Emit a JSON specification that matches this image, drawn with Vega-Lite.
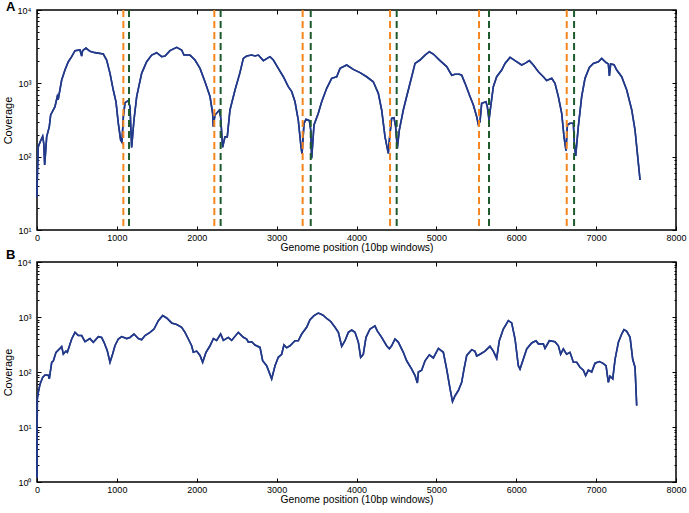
{
  "$schema": "https://vega.github.io/schema/vega-lite/v6.json",
  "padding": {"left": 1, "top": 0, "right": 3, "bottom": 3},
  "background": "white",
  "config": {
    "font": "Liberation Sans",
    "view": {"stroke": "black", "strokeWidth": 1.5},
    "axis": {
      "grid": false, "domain": false, "tickColor": "black", "labelColor": "black",
      "labelFontSize": 9, "titleFontSize": 11, "titleFontWeight": "normal", "titleColor": "black",
      "tickWidth": 1
    },
    "axisX": {"titleFontSize": 10.3},
    "title": {"fontSize": 13, "fontWeight": "bold", "anchor": "start", "frame": "group", "dx": -31, "offset": -8}
  },
  "datasets": {
    "a": [
      {"x": 0, "y": 28}, {"x": 5, "y": 60}, {"x": 16, "y": 137}, {"x": 40, "y": 160}, {"x": 71, "y": 190}, {"x": 85, "y": 150}, {"x": 96, "y": 77},
      {"x": 121, "y": 186}, {"x": 154, "y": 257}, {"x": 171, "y": 370}, {"x": 225, "y": 480}, {"x": 254, "y": 660},
      {"x": 265, "y": 600}, {"x": 309, "y": 1110}, {"x": 350, "y": 1520}, {"x": 392, "y": 1970}, {"x": 434, "y": 2310},
      {"x": 476, "y": 2790}, {"x": 538, "y": 2850}, {"x": 559, "y": 2360}, {"x": 571, "y": 2790}, {"x": 613, "y": 3030},
      {"x": 663, "y": 2730}, {"x": 726, "y": 2620}, {"x": 830, "y": 2510}, {"x": 872, "y": 2080}, {"x": 914, "y": 1370},
      {"x": 955, "y": 810}, {"x": 989, "y": 560}, {"x": 1018, "y": 285}, {"x": 1047, "y": 169}, {"x": 1064, "y": 157},
      {"x": 1081, "y": 350}, {"x": 1102, "y": 545}, {"x": 1143, "y": 580}, {"x": 1164, "y": 480}, {"x": 1185, "y": 134},
      {"x": 1214, "y": 316}, {"x": 1248, "y": 660}, {"x": 1310, "y": 1370}, {"x": 1373, "y": 1970}, {"x": 1436, "y": 2430},
      {"x": 1498, "y": 2620}, {"x": 1561, "y": 2310}, {"x": 1603, "y": 2360}, {"x": 1665, "y": 2790}, {"x": 1749, "y": 3100},
      {"x": 1811, "y": 2850}, {"x": 1840, "y": 2430}, {"x": 1915, "y": 2430}, {"x": 1978, "y": 2080}, {"x": 2041, "y": 1600},
      {"x": 2103, "y": 1050}, {"x": 2166, "y": 660}, {"x": 2199, "y": 390}, {"x": 2207, "y": 257}, {"x": 2228, "y": 370},
      {"x": 2257, "y": 400}, {"x": 2282, "y": 430}, {"x": 2299, "y": 350}, {"x": 2324, "y": 134}, {"x": 2353, "y": 186},
      {"x": 2382, "y": 186}, {"x": 2416, "y": 433}, {"x": 2479, "y": 810}, {"x": 2541, "y": 1400}, {"x": 2583, "y": 2190},
      {"x": 2625, "y": 2360}, {"x": 2688, "y": 2430}, {"x": 2729, "y": 2360}, {"x": 2771, "y": 2430}, {"x": 2834, "y": 2040},
      {"x": 2917, "y": 2310}, {"x": 2959, "y": 2080}, {"x": 3021, "y": 1600}, {"x": 3084, "y": 1230}, {"x": 3146, "y": 900},
      {"x": 3189, "y": 770}, {"x": 3230, "y": 560}, {"x": 3271, "y": 316}, {"x": 3305, "y": 137}, {"x": 3318, "y": 109},
      {"x": 3343, "y": 285}, {"x": 3368, "y": 323}, {"x": 3410, "y": 310}, {"x": 3427, "y": 231}, {"x": 3439, "y": 95},
      {"x": 3468, "y": 270}, {"x": 3522, "y": 390}, {"x": 3564, "y": 560}, {"x": 3627, "y": 855}, {"x": 3689, "y": 1170},
      {"x": 3752, "y": 1230}, {"x": 3794, "y": 1600}, {"x": 3877, "y": 1780}, {"x": 3960, "y": 1550}, {"x": 4044, "y": 1400},
      {"x": 4127, "y": 1230}, {"x": 4210, "y": 1050}, {"x": 4273, "y": 730}, {"x": 4315, "y": 433}, {"x": 4357, "y": 186},
      {"x": 4398, "y": 111}, {"x": 4415, "y": 186}, {"x": 4440, "y": 333}, {"x": 4469, "y": 340}, {"x": 4490, "y": 257},
      {"x": 4511, "y": 130}, {"x": 4536, "y": 231}, {"x": 4586, "y": 433}, {"x": 4628, "y": 660}, {"x": 4691, "y": 1230},
      {"x": 4733, "y": 1870}, {"x": 4795, "y": 2080}, {"x": 4858, "y": 2430}, {"x": 4912, "y": 2700}, {"x": 4962, "y": 2510},
      {"x": 5046, "y": 2040}, {"x": 5129, "y": 1690}, {"x": 5192, "y": 1290}, {"x": 5234, "y": 1330}, {"x": 5288, "y": 1330},
      {"x": 5317, "y": 1290}, {"x": 5359, "y": 1000}, {"x": 5421, "y": 660}, {"x": 5463, "y": 507}, {"x": 5505, "y": 350},
      {"x": 5525, "y": 276}, {"x": 5546, "y": 300}, {"x": 5567, "y": 534}, {"x": 5621, "y": 560}, {"x": 5638, "y": 480},
      {"x": 5659, "y": 316}, {"x": 5680, "y": 480}, {"x": 5713, "y": 900}, {"x": 5755, "y": 1230}, {"x": 5818, "y": 1520},
      {"x": 5859, "y": 1870}, {"x": 5922, "y": 2260}, {"x": 5985, "y": 2040}, {"x": 6068, "y": 1780}, {"x": 6109, "y": 1870},
      {"x": 6164, "y": 2040}, {"x": 6214, "y": 1780}, {"x": 6277, "y": 1440}, {"x": 6339, "y": 1230}, {"x": 6381, "y": 1090},
      {"x": 6444, "y": 1170}, {"x": 6485, "y": 1000}, {"x": 6527, "y": 660}, {"x": 6569, "y": 390}, {"x": 6598, "y": 186},
      {"x": 6623, "y": 121}, {"x": 6640, "y": 270}, {"x": 6673, "y": 285}, {"x": 6715, "y": 285}, {"x": 6727, "y": 152},
      {"x": 6744, "y": 102}, {"x": 6777, "y": 257}, {"x": 6819, "y": 660}, {"x": 6861, "y": 1170}, {"x": 6915, "y": 1650},
      {"x": 6965, "y": 1870}, {"x": 7028, "y": 1970}, {"x": 7070, "y": 2190}, {"x": 7124, "y": 1920}, {"x": 7153, "y": 1840},
      {"x": 7166, "y": 1260}, {"x": 7182, "y": 1840}, {"x": 7224, "y": 1800}, {"x": 7258, "y": 1520}, {"x": 7320, "y": 1230},
      {"x": 7383, "y": 810}, {"x": 7446, "y": 433}, {"x": 7487, "y": 231}, {"x": 7529, "y": 81}, {"x": 7550, "y": 48}
    ],
    "b": [
      {"x": 0, "y": 1.2}, {"x": 2, "y": 8}, {"x": 4, "y": 32}, {"x": 17, "y": 43}, {"x": 38, "y": 60}, {"x": 71, "y": 80},
      {"x": 100, "y": 88}, {"x": 142, "y": 87}, {"x": 154, "y": 75}, {"x": 184, "y": 150}, {"x": 204, "y": 158},
      {"x": 238, "y": 228}, {"x": 288, "y": 269}, {"x": 309, "y": 290}, {"x": 330, "y": 212}, {"x": 363, "y": 240},
      {"x": 380, "y": 228}, {"x": 434, "y": 398}, {"x": 476, "y": 526}, {"x": 517, "y": 460}, {"x": 559, "y": 460},
      {"x": 601, "y": 355}, {"x": 663, "y": 405}, {"x": 705, "y": 348}, {"x": 768, "y": 440}, {"x": 809, "y": 425},
      {"x": 838, "y": 350}, {"x": 880, "y": 244}, {"x": 914, "y": 150}, {"x": 947, "y": 212}, {"x": 976, "y": 300},
      {"x": 1018, "y": 398}, {"x": 1060, "y": 440}, {"x": 1122, "y": 405}, {"x": 1164, "y": 425}, {"x": 1214, "y": 490},
      {"x": 1269, "y": 405}, {"x": 1310, "y": 385}, {"x": 1352, "y": 460}, {"x": 1415, "y": 526}, {"x": 1465, "y": 605},
      {"x": 1519, "y": 860}, {"x": 1573, "y": 1060}, {"x": 1623, "y": 960}, {"x": 1686, "y": 780}, {"x": 1749, "y": 730},
      {"x": 1811, "y": 650}, {"x": 1853, "y": 526}, {"x": 1895, "y": 398}, {"x": 1936, "y": 300}, {"x": 1957, "y": 228},
      {"x": 1999, "y": 240}, {"x": 2041, "y": 200}, {"x": 2074, "y": 150}, {"x": 2116, "y": 228}, {"x": 2166, "y": 300},
      {"x": 2208, "y": 405}, {"x": 2249, "y": 375}, {"x": 2299, "y": 490}, {"x": 2333, "y": 375}, {"x": 2395, "y": 425},
      {"x": 2437, "y": 375}, {"x": 2520, "y": 526}, {"x": 2583, "y": 427}, {"x": 2625, "y": 398}, {"x": 2646, "y": 348},
      {"x": 2688, "y": 355}, {"x": 2729, "y": 310}, {"x": 2792, "y": 280}, {"x": 2825, "y": 160}, {"x": 2875, "y": 130},
      {"x": 2938, "y": 75}, {"x": 2980, "y": 130}, {"x": 3021, "y": 185}, {"x": 3063, "y": 210}, {"x": 3092, "y": 310},
      {"x": 3125, "y": 275}, {"x": 3167, "y": 300}, {"x": 3230, "y": 370}, {"x": 3271, "y": 370}, {"x": 3314, "y": 490},
      {"x": 3376, "y": 650}, {"x": 3418, "y": 890}, {"x": 3468, "y": 1060}, {"x": 3522, "y": 1180}, {"x": 3577, "y": 1090},
      {"x": 3635, "y": 920}, {"x": 3677, "y": 830}, {"x": 3731, "y": 650}, {"x": 3773, "y": 526}, {"x": 3815, "y": 293},
      {"x": 3856, "y": 370}, {"x": 3898, "y": 526}, {"x": 3940, "y": 580}, {"x": 3981, "y": 526}, {"x": 4023, "y": 350},
      {"x": 4052, "y": 185}, {"x": 4085, "y": 210}, {"x": 4119, "y": 427}, {"x": 4169, "y": 605}, {"x": 4231, "y": 690},
      {"x": 4260, "y": 560}, {"x": 4315, "y": 427}, {"x": 4377, "y": 300}, {"x": 4411, "y": 265}, {"x": 4440, "y": 300},
      {"x": 4482, "y": 398}, {"x": 4523, "y": 350}, {"x": 4586, "y": 228}, {"x": 4628, "y": 160}, {"x": 4691, "y": 113},
      {"x": 4733, "y": 86}, {"x": 4762, "y": 63}, {"x": 4775, "y": 100}, {"x": 4816, "y": 108}, {"x": 4858, "y": 160},
      {"x": 4912, "y": 205}, {"x": 4962, "y": 180}, {"x": 5025, "y": 269}, {"x": 5087, "y": 228}, {"x": 5129, "y": 113},
      {"x": 5171, "y": 50}, {"x": 5202, "y": 29}, {"x": 5234, "y": 37}, {"x": 5275, "y": 46}, {"x": 5317, "y": 65},
      {"x": 5346, "y": 113}, {"x": 5380, "y": 200}, {"x": 5442, "y": 255}, {"x": 5484, "y": 237}, {"x": 5505, "y": 195},
      {"x": 5546, "y": 210}, {"x": 5609, "y": 240}, {"x": 5671, "y": 293}, {"x": 5713, "y": 240}, {"x": 5755, "y": 177},
      {"x": 5788, "y": 370}, {"x": 5838, "y": 605}, {"x": 5901, "y": 860}, {"x": 5943, "y": 780}, {"x": 5985, "y": 398},
      {"x": 6026, "y": 130}, {"x": 6047, "y": 113}, {"x": 6068, "y": 140}, {"x": 6131, "y": 262}, {"x": 6193, "y": 337},
      {"x": 6247, "y": 370}, {"x": 6277, "y": 325}, {"x": 6339, "y": 325}, {"x": 6360, "y": 269}, {"x": 6414, "y": 370},
      {"x": 6485, "y": 355}, {"x": 6527, "y": 300}, {"x": 6556, "y": 210}, {"x": 6589, "y": 262}, {"x": 6631, "y": 210},
      {"x": 6673, "y": 228}, {"x": 6715, "y": 150}, {"x": 6757, "y": 150}, {"x": 6798, "y": 122}, {"x": 6840, "y": 108},
      {"x": 6869, "y": 86}, {"x": 6903, "y": 108}, {"x": 6944, "y": 100}, {"x": 6986, "y": 145}, {"x": 7040, "y": 155},
      {"x": 7082, "y": 145}, {"x": 7124, "y": 130}, {"x": 7153, "y": 65}, {"x": 7174, "y": 84}, {"x": 7208, "y": 75},
      {"x": 7237, "y": 170}, {"x": 7279, "y": 348}, {"x": 7320, "y": 490}, {"x": 7349, "y": 590}, {"x": 7383, "y": 550},
      {"x": 7425, "y": 427}, {"x": 7458, "y": 170}, {"x": 7487, "y": 122}, {"x": 7508, "y": 24.5}
    ],
    "marks": [
      {"x": 1081, "kind": "start"}, {"x": 1152, "kind": "end"},
      {"x": 2220, "kind": "start"}, {"x": 2299, "kind": "end"},
      {"x": 3326, "kind": "start"}, {"x": 3427, "kind": "end"},
      {"x": 4420, "kind": "start"}, {"x": 4503, "kind": "end"},
      {"x": 5534, "kind": "start"}, {"x": 5659, "kind": "end"},
      {"x": 6632, "kind": "start"}, {"x": 6724, "kind": "end"}
    ]
  },
  "spacing": -6,
  "vconcat": [
    {
      "width": 639, "height": 220,
      "title": {"text": "A"},
      "layer": [
        {
          "data": {"name": "a"},
          "mark": {"type": "line", "color": "#22398a", "strokeWidth": 1.6},
          "encoding": {
            "x": {"field": "x", "type": "quantitative", "scale": {"domain": [0, 8000], "nice": false},
                  "axis": {"orient": "bottom", "title": "Genome position (10bp windows)", "format": "d", "values": [0,1000,2000,3000,4000,5000,6000,7000,8000], "tickSize": -4, "labelPadding": 7.5, "titlePadding": 0, "labelFlush": false}},
            "y": {"field": "y", "type": "quantitative", "scale": {"type": "log", "domain": [10, 10000], "nice": false},
                  "axis": {"orient": "left", "title": "Coverage", "titlePadding": 4,
                           "values": [10,20,30,40,50,60,70,80,90,100,200,300,400,500,600,700,800,900,1000,2000,3000,4000,5000,6000,7000,8000,9000,10000],
                           "labelExpr": "abs(log(datum.value)/LN10 - round(log(datum.value)/LN10)) < 0.000001 ? '10' + ['⁰','¹','²','³','⁴'][round(log(datum.value)/LN10)] : ''",
                           "tickSize": {"condition": {"test": "abs(log(datum.value)/LN10 - round(log(datum.value)/LN10)) < 0.000001", "value": -4}, "value": -2},
                           "labelPadding": 10, "labelFlush": false}}
          }
        },
        {
          "data": {"name": "a"},
          "mark": {"type": "line", "color": "#22398a", "strokeWidth": 1.6},
          "encoding": {
            "x": {"field": "x", "type": "quantitative", "axis": {"orient": "top", "title": null, "labels": false, "values": [0,1000,2000,3000,4000,5000,6000,7000,8000], "tickSize": -4}},
            "y": {"field": "y", "type": "quantitative",
                  "axis": {"orient": "right", "title": null, "labels": false,
                           "values": [10,20,30,40,50,60,70,80,90,100,200,300,400,500,600,700,800,900,1000,2000,3000,4000,5000,6000,7000,8000,9000,10000],
                           "tickSize": {"condition": {"test": "abs(log(datum.value)/LN10 - round(log(datum.value)/LN10)) < 0.000001", "value": -4}, "value": -2}}}
          }
        },
        {
          "data": {"name": "marks"},
          "mark": {"type": "rule", "strokeWidth": 2, "strokeDash": [7, 4]},
          "encoding": {
            "x": {"field": "x", "type": "quantitative", "axis": null},
            "color": {"field": "kind", "type": "nominal", "scale": {"domain": ["start", "end"], "range": ["#f5861f", "#1d5b2c"]}, "legend": null}
          }
        }
      ]
    },
    {
      "width": 639, "height": 220,
      "title": {"text": "B", "offset": -4},
      "layer": [
        {
          "data": {"name": "b"},
          "mark": {"type": "line", "color": "#22398a", "strokeWidth": 1.6},
          "encoding": {
            "x": {"field": "x", "type": "quantitative", "scale": {"domain": [0, 8000], "nice": false},
                  "axis": {"orient": "bottom", "title": "Genome position (10bp windows)", "format": "d", "values": [0,1000,2000,3000,4000,5000,6000,7000,8000], "tickSize": -4, "labelPadding": 7.5, "titlePadding": 0, "labelFlush": false}},
            "y": {"field": "y", "type": "quantitative", "scale": {"type": "log", "domain": [1, 10000], "nice": false},
                  "axis": {"orient": "left", "title": "Coverage", "titlePadding": 4,
                           "values": [1,2,3,4,5,6,7,8,9,10,20,30,40,50,60,70,80,90,100,200,300,400,500,600,700,800,900,1000,2000,3000,4000,5000,6000,7000,8000,9000,10000],
                           "labelExpr": "abs(log(datum.value)/LN10 - round(log(datum.value)/LN10)) < 0.000001 ? '10' + ['⁰','¹','²','³','⁴'][round(log(datum.value)/LN10)] : ''",
                           "tickSize": {"condition": {"test": "abs(log(datum.value)/LN10 - round(log(datum.value)/LN10)) < 0.000001", "value": -4}, "value": -2},
                           "labelPadding": 10, "labelFlush": false}}
          }
        },
        {
          "data": {"name": "b"},
          "mark": {"type": "line", "color": "#22398a", "strokeWidth": 1.6},
          "encoding": {
            "x": {"field": "x", "type": "quantitative", "axis": {"orient": "top", "title": null, "labels": false, "values": [0,1000,2000,3000,4000,5000,6000,7000,8000], "tickSize": -4}},
            "y": {"field": "y", "type": "quantitative",
                  "axis": {"orient": "right", "title": null, "labels": false,
                           "values": [1,2,3,4,5,6,7,8,9,10,20,30,40,50,60,70,80,90,100,200,300,400,500,600,700,800,900,1000,2000,3000,4000,5000,6000,7000,8000,9000,10000],
                           "tickSize": {"condition": {"test": "abs(log(datum.value)/LN10 - round(log(datum.value)/LN10)) < 0.000001", "value": -4}, "value": -2}}}
          }
        }
      ]
    }
  ]
}
